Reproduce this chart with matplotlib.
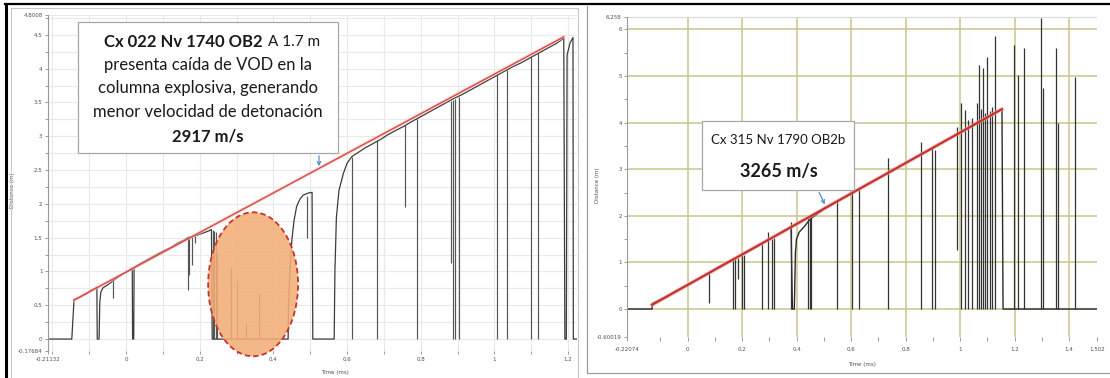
import matplotlib
matplotlib.use('Agg')
import matplotlib.pyplot as plt
from matplotlib.patches import Ellipse, Rectangle, FancyArrowPatch
from matplotlib.lines import Line2D

# ---------------- DATA ----------------
# Left chart: Cx 022 Nv 1740 OB2
L_xlim = (-0.21132, 1.225)
L_ylim = (-0.17684, 4.8008)
L_xticks = [-0.21132, 0, 0.2, 0.4, 0.6, 0.8, 1.0, 1.2]
L_xticklabels = ['-0.21132', '0', '0.2', '0.4', '0.6', '0.8', '1', '1.2']
L_xminor = [-0.2, -0.1, 0.1, 0.3, 0.5, 0.7, 0.9, 1.1]
L_yticks = [-0.17684, 0, 0.5, 1, 1.5, 2, 2.5, 3, 3.5, 4, 4.5, 4.8008]
L_yticklabels = ['-0.17684', '0', '0.5', '1', '1.5', '2', '2.5', '3', '3.5', '4', '4.5', '4.8008']
L_yminor = [0.25, 0.75, 1.25, 1.75, 2.25, 2.75, 3.25, 3.75, 4.25, 4.75]

L_trace_t = [-0.2113, -0.147, -0.141, -0.125, -0.11, -0.095, -0.083, -0.079, -0.078, -0.073,
             -0.071, -0.068, -0.062, -0.05, -0.04, -0.036, -0.025, -0.01, 0.005, 0.017,
             0.018, 0.021, 0.022, 0.04, 0.06, 0.08, 0.10, 0.12, 0.14, 0.16,
             0.167, 0.19, 0.21, 0.225, 0.232, 0.234, 0.44, 0.441, 0.445, 0.45,
             0.456, 0.463, 0.472, 0.481, 0.495, 0.505, 0.507, 0.565, 0.567, 0.571,
             0.578, 0.59, 0.60, 0.613, 0.63, 0.65, 0.67, 0.69, 0.71, 0.73,
             0.755, 0.77, 0.79, 0.81, 0.83, 0.85, 0.87, 0.89, 0.91, 0.93,
             0.95, 0.97, 0.99, 1.01, 1.03, 1.05, 1.07, 1.09, 1.11, 1.13,
             1.15, 1.17, 1.188, 1.191, 1.195, 1.197, 1.205, 1.213, 1.214, 1.225]
L_trace_d = [0, 0, 0.58, 0.62, 0.66, 0.72, 0.75, 0.77, 0, 0,
             0.55, 0.70, 0.76, 0.80, 0.84, 0.86, 0.90, 0.96, 1.00, 1.05,
             0, 0, 1.06, 1.12, 1.18, 1.24, 1.30, 1.35, 1.42, 1.47,
             1.50, 1.53, 1.57, 1.60, 1.62, 0, 0, 0.5, 1.0, 1.46,
             1.75, 1.96, 2.07, 2.13, 2.16, 2.17, 0, 0, 1.0, 1.8,
             2.2, 2.45, 2.6, 2.70, 2.76, 2.83, 2.89, 2.95, 3.02, 3.08,
             3.15, 3.20, 3.26, 3.32, 3.38, 3.44, 3.50, 3.56, 3.61, 3.67,
             3.73, 3.79, 3.85, 3.91, 3.97, 4.03, 4.08, 4.14, 4.20, 4.26,
             4.32, 4.38, 4.45, 0, 0, 4.2, 4.38, 4.46, 0, 0]

# vertical drop-outs / spikes: time, low, high
L_spike_t = [-0.036, 0.168, 0.172, 0.178, 0.187, 0.236, 0.240, 0.243, 0.248, 0.285,
             0.302, 0.327, 0.361, 0.49, 0.614, 0.68, 0.757, 0.79, 0.882, 0.887,
             0.893, 0.905, 1.007, 1.033, 1.10, 1.118]
L_spike_lo = [0.60, 0.73, 0.95, 1.10, 1.42, 0, 0, 0, 0, 0,
              0, 0, 0, 1.5, 0, 0, 1.95, 0, 1.12, 0,
              0, 0, 0, 0, 0, 0]
L_spike_hi = [0.86, 1.50, 1.50, 1.52, 1.53, 1.62, 1.60, 1.58, 1.27, 1.07,
              0.86, 0.24, 0.68, 2.12, 2.70, 2.94, 3.16, 3.26, 3.52, 3.53,
              3.55, 3.58, 3.92, 3.98, 4.17, 4.23]

L_fit_t = [-0.141, 1.188]
L_fit_d = [0.577, 4.47]

# Right chart: Cx 315 Nv 1790 OB2b
R_xlim = (-0.22074, 1.502)
R_ylim = (-0.60019, 6.258)
R_xticks = [-0.22074, 0, 0.2, 0.4, 0.6, 0.8, 1.0, 1.2, 1.4, 1.502]
R_xticklabels = ['-0.22074', '0', '0.2', '0.4', '0.6', '0.8', '1', '1.2', '1.4', '1.502']
R_xminor = [-0.1, 0.1, 0.3, 0.5, 0.7, 0.9, 1.1, 1.3]
R_yticks = [-0.60019, 0, 1, 2, 3, 4, 5, 6, 6.258]
R_yticklabels = ['-0.60019', '0', '1', '2', '3', '4', '5', '6', '6.258']
R_yminor = [0.5, 1.5, 2.5, 3.5, 4.5, 5.5]
R_grid_x = [0, 0.2, 0.4, 0.6, 0.8, 1.0, 1.2, 1.4]
R_grid_y = [0, 1, 2, 3, 4, 5, 6]

R_trace_t = [-0.2207, -0.13, -0.129, -0.08, -0.03, 0.02, 0.07, 0.12, 0.165, 0.21,
             0.26, 0.30, 0.35, 0.38, 0.385, 0.392, 0.393, 0.396, 0.40, 0.41,
             0.43, 0.45, 0.50, 0.55, 0.60, 0.65, 0.70, 0.75, 0.80, 0.85,
             0.90, 0.95, 1.00, 1.05, 1.10, 1.154, 1.158, 1.502]
R_trace_d = [0, 0, 0.12, 0.26, 0.43, 0.58, 0.75, 0.92, 1.06, 1.20,
             1.36, 1.49, 1.66, 1.76, 0, 0, 0.3, 1.2, 1.5, 1.65,
             1.78, 1.93, 2.14, 2.31, 2.47, 2.64, 2.80, 2.96, 3.13, 3.29,
             3.45, 3.62, 3.78, 3.94, 4.11, 4.29, 0, 0]

R_spike_t = [0.079, 0.167, 0.175, 0.185, 0.20, 0.208, 0.272, 0.295, 0.31, 0.316,
             0.38, 0.442, 0.449, 0.455, 0.548, 0.603, 0.629, 0.735, 0.856, 0.896,
             0.908, 0.99, 1.005, 1.018, 1.03, 1.045, 1.062, 1.07, 1.077, 1.084,
             1.092, 1.10, 1.11, 1.117, 1.128, 1.199, 1.214, 1.235, 1.297, 1.305,
             1.352, 1.36, 1.422]
R_spike_lo = [0.13, 0, 0, 0.65, 0, 0, 0, 0, 0, 0,
              0, 0, 0, 0, 0, 0, 0, 0, 0, 0,
              0, 1.27, 0, 0, 0, 0, 0, 0, 0, 0,
              0, 0, 0, 0, 0, 0, 0, 0, 0, 0,
              0, 0, 0]
R_spike_hi = [0.77, 1.05, 1.08, 1.10, 1.15, 1.17, 1.40, 1.65, 1.50, 1.52,
              1.87, 1.95, 1.98, 2.00, 2.31, 2.48, 2.57, 3.24, 3.58, 3.48,
              3.41, 3.90, 4.42, 4.27, 4.05, 4.10, 4.42, 5.24, 4.30, 5.17,
              4.20, 5.41, 4.25, 4.33, 5.86, 5.67, 5.02, 5.60, 6.24, 4.74,
              5.60, 4.00, 4.98]

R_fit_t = [-0.13, 1.154]
R_fit_d = [0.09, 4.29]

# ---------------- FIGURE ----------------
W, H = 1110, 378
fig = plt.figure(figsize=(W / 100, H / 100), dpi=100)
fig.patch.set_facecolor('white')


def fx(x):
    return x / W


def fy(y):
    return 1 - y / H


axL = fig.add_axes([fx(48.1), fy(351), (577.4 - 48.1) / W, (351 - 14.5) / H])
axR = fig.add_axes([fx(627.35), fy(337), (1096.8 - 627.35) / W, (337 - 17.4) / H])

for ax in (axL, axR):
    for s in ('top', 'right', 'bottom'):
        ax.spines[s].set_visible(False)
    ax.spines['left'].set_color('#9a9a9a')
    ax.spines['left'].set_linewidth(0.8)
    ax.tick_params(which='both', direction='out', colors='#8a8a8a',
                   labelcolor='#505050', labelsize=4, width=0.6)
    ax.tick_params(which='major', length=2.5)
    ax.tick_params(which='minor', length=2)
    ax.set_facecolor('white')

# ---- left axes ----
axL.set_xlim(*L_xlim)
axL.set_ylim(*L_ylim)
axL.set_xticks(L_xticks)
axL.set_xticklabels(L_xticklabels)
axL.set_xticks(L_xminor, minor=True)
axL.set_yticks(L_yticks)
axL.set_yticklabels(L_yticklabels)
axL.set_yticks(L_yminor, minor=True)
axL.tick_params(axis='x', which='both', pad=2)
axL.tick_params(axis='y', which='both', pad=1.5)
axL.grid(which='both', color='#e9e9e9', lw=0.8, zorder=0)
axL.set_axisbelow(True)

axL.plot(L_trace_t, L_trace_d, color='#3c3c3c', lw=0.9, zorder=2)
axL.vlines(L_spike_t, L_spike_lo, L_spike_hi, color='#555555', lw=0.85, zorder=2)
ell = Ellipse((0.345, 0.81), 0.244, 2.13, facecolor='#f2ae78', alpha=0.88,
              edgecolor='none', zorder=3, clip_on=False)
axL.add_patch(ell)
ell2 = Ellipse((0.345, 0.81), 0.244, 2.13, facecolor='none', edgecolor='#c8322a',
               lw=1.3, linestyle=(0, (3, 1.8)), zorder=4, clip_on=False)
axL.add_patch(ell2)
axL.plot(L_fit_t, L_fit_d, color='#f4c4be', lw=2.4, zorder=5, alpha=0.6)
axL.plot(L_fit_t, L_fit_d, color='#d94a42', lw=1.0, zorder=6)

axL.set_xlabel('Time (ms)', fontsize=4, color='#505050')
axL.xaxis.set_label_coords(0.542, -0.056)
axL.set_ylabel('Distance (m)', fontsize=4, color='#505050')
axL.yaxis.set_label_coords(-0.062, 0.478)

# ---- right axes ----
axR.set_xlim(*R_xlim)
axR.set_ylim(*R_ylim)
axR.set_xticks(R_xticks)
axR.set_xticklabels(R_xticklabels)
axR.set_xticks(R_xminor, minor=True)
axR.set_yticks(R_yticks)
axR.set_yticklabels(R_yticklabels)
axR.set_yticks(R_yminor, minor=True)
axR.tick_params(axis='x', which='both', pad=4, length=3)
axR.tick_params(axis='y', which='both', pad=1.5)
for gx in R_grid_x:
    axR.axvline(gx, color='#c9c68c', lw=1.1, zorder=0)
for gy in R_grid_y:
    axR.axhline(gy, color='#c9c68c', lw=1.1, zorder=0)
axR.axhline(R_ylim[1], color='#d8d8d8', lw=0.8, zorder=0)

axR.plot(R_trace_t, R_trace_d, color='#2a2a2a', lw=1.0, zorder=2)
axR.vlines(R_spike_t, R_spike_lo, R_spike_hi, color='#333333', lw=0.9, zorder=2)
axR.plot(R_fit_t, R_fit_d, color='#e8a8a4', lw=3.0, zorder=5, alpha=0.6)
axR.plot(R_fit_t, R_fit_d, color='#c8302c', lw=1.5, zorder=6)

axR.set_xlabel('Time (ms)', fontsize=4, color='#505050')
axR.xaxis.set_label_coords(0.5, -0.078)
axR.set_ylabel('Distance (m)', fontsize=4, color='#505050')
axR.yaxis.set_label_coords(-0.058, 0.476)

# ---------------- frames ----------------
fig.add_artist(Line2D([fx(5), fx(1110)], [fy(4), fy(4)], color='black', lw=1.6,
                      transform=fig.transFigure))
fig.add_artist(Line2D([fx(6), fx(6)], [fy(4), fy(378)], color='black', lw=2.2,
                      transform=fig.transFigure))
fig.add_artist(Line2D([fx(11), fx(11), fx(578), fx(578)],
                      [fy(378), fy(8), fy(8), fy(378)], color='#c8c8c8', lw=0.8,
                      transform=fig.transFigure))
fig.add_artist(Line2D([fx(587), fx(587), fx(1110)],
                      [fy(6), fy(373), fy(373)], color='#9a9a9a', lw=0.9,
                      transform=fig.transFigure))

# ---------------- annotation boxes ----------------
FONT = ['Lato', 'DejaVu Sans']
fig.add_artist(Rectangle((fx(78), fy(153)), (338 - 78) / W, (153 - 22) / H,
                         facecolor='white', edgecolor='#a8a8a8', lw=0.9,
                         transform=fig.transFigure, zorder=10))
fig.text(fx(263), fy(42), 'Cx 022 Nv 1740 OB2', ha='right', va='center',
         fontsize=12, fontweight='bold', family=FONT, color='#1a1a1a', zorder=11)
fig.text(fx(268), fy(42), 'A 1.7 m', ha='left', va='center',
         fontsize=11, family=FONT, color='#1a1a1a', zorder=11)
fig.text(fx(208), fy(65), 'presenta caída de VOD en la', ha='center', va='center',
         fontsize=12, family=FONT, color='#1a1a1a', zorder=11)
fig.text(fx(208), fy(88), 'columna explosiva, generando', ha='center', va='center',
         fontsize=12, family=FONT, color='#1a1a1a', zorder=11)
fig.text(fx(208), fy(112), 'menor velocidad de detonación', ha='center', va='center',
         fontsize=12, family=FONT, color='#1a1a1a', zorder=11)
fig.text(fx(208), fy(137), '2917 m/s', ha='center', va='center',
         fontsize=12, fontweight='bold', family=FONT, color='#1a1a1a', zorder=11)
fig.add_artist(FancyArrowPatch((fx(319), fy(153)), (fx(319), fy(169)),
                               arrowstyle='->', mutation_scale=6, color='#5b8bd0',
                               lw=0.9, transform=fig.transFigure, zorder=12))

fig.add_artist(Rectangle((fx(702), fy(190)), (854 - 702) / W, (190 - 121) / H,
                         facecolor='white', edgecolor='#a8a8a8', lw=0.9,
                         transform=fig.transFigure, zorder=10))
fig.text(fx(778), fy(140), 'Cx 315 Nv 1790 OB2b', ha='center', va='center',
         fontsize=9.5, family=FONT, color='#1a1a1a', zorder=11)
fig.text(fx(779), fy(172), '3265 m/s', ha='center', va='center',
         fontsize=13, fontweight='bold', family=FONT, color='#1a1a1a', zorder=11)
fig.add_artist(FancyArrowPatch((fx(818), fy(190)), (fx(826), fy(207)),
                               arrowstyle='->', mutation_scale=6, color='#5b8bd0',
                               lw=0.9, transform=fig.transFigure, zorder=12))

fig.savefig('out.png', dpi=100, facecolor='white')
